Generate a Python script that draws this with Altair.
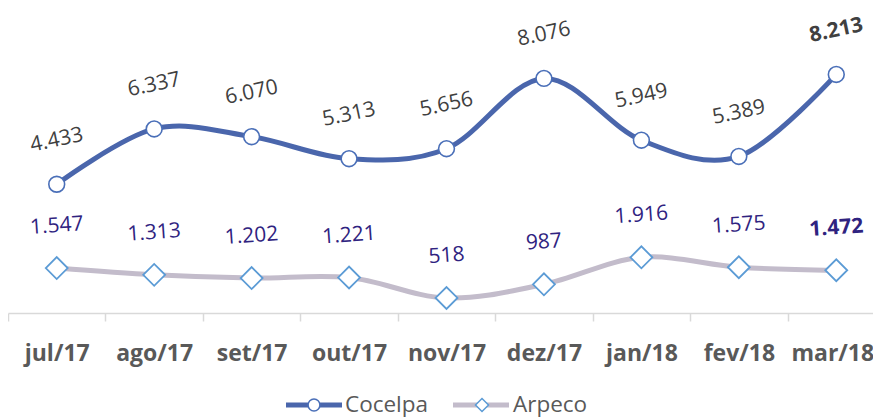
import altair as alt
import pandas as pd

months = ["jul/17", "ago/17", "set/17", "out/17", "nov/17", "dez/17", "jan/18", "fev/18", "mar/18"]
cocelpa = [4433, 6337, 6070, 5313, 5656, 8076, 5949, 5389, 8213]
arpeco = [1547, 1313, 1202, 1221, 518, 987, 1916, 1575, 1472]
series_names = ["Cocelpa", "Arpeco"]

FONT = "Open Sans"


def fmt(v):
    return f"{v:,}".replace(",", ".")


def frame(name, values):
    return pd.DataFrame({
        "month": months,
        "series": name,
        "value": values,
        "label": [fmt(v) for v in values],
        "last": [i == len(values) - 1 for i in range(len(values))],
    })


dc = frame(series_names[0], cocelpa)
da = frame(series_names[1], arpeco)

xenc = alt.X(
    "month:N", sort=months, title=None,
    scale=alt.Scale(type="band", range=[0, 877], paddingInner=0, paddingOuter=0),
    axis=alt.Axis(
        tickBand="extent", domainColor="#d9d9d9", domainWidth=1.5,
        tickColor="#d9d9d9", tickWidth=1.5, tickSize=8,
        labelFont=FONT, labelFontSize=23, labelFontWeight="bold",
        labelColor="#595959", labelPadding=21, labelAngle=0, grid=False,
        labelOffset={"condition": {"test": f"datum.label === '{months[-1]}'", "value": -4}, "value": 0},
    ),
)
yenc = alt.Y("value:Q", scale=alt.Scale(domain=[0, 10500], nice=False, zero=True), axis=None)


def labels(df, color, angle, yoff):
    base = alt.Chart(df)
    normal = base.transform_filter("!datum.last").mark_text(
        font=FONT, fontSize=21, color=color, angle=angle, yOffset=yoff, baseline="middle"
    ).encode(x=xenc, y=yenc, text="label:N")
    bold = base.transform_filter("datum.last").mark_text(
        font=FONT, fontSize=21, fontWeight="bold", color=color, angle=angle, yOffset=yoff, baseline="middle"
    ).encode(x=xenc, y=yenc, text="label:N")
    return [normal, bold]


c_line = alt.Chart(dc).mark_line(interpolate="cardinal", color="#4a66ac", strokeWidth=5).encode(x=xenc, y=yenc)
c_pts = alt.Chart(dc).mark_point(shape="circle", filled=True, fill="white", stroke="#4a6fb8",
                                 strokeWidth=1.6, size=250, opacity=1).encode(x=xenc, y=yenc)

a_line = alt.Chart(da).mark_line(interpolate="cardinal", color="#c3bccb", strokeWidth=5).encode(x=xenc, y=yenc)
a_pts = alt.Chart(da).mark_point(shape="diamond", filled=True, fill="white", stroke="#5b9bd5",
                                 strokeWidth=1.8, size=480, opacity=1).encode(x=xenc, y=yenc)

# legend
leg = pd.DataFrame({"series": series_names})
lc = leg[leg.series == "Cocelpa"]
la = leg[leg.series == "Arpeco"]
LY = 397
leg_layers = [
    alt.Chart(lc).mark_rule(color="#4a66ac", strokeWidth=5).encode(
        x=alt.value(278), x2=alt.value(334), y=alt.value(LY)),
    alt.Chart(lc).mark_point(shape="circle", filled=True, fill="white", stroke="#4a6fb8",
                             strokeWidth=1.5, size=140, opacity=1).encode(x=alt.value(306), y=alt.value(LY)),
    alt.Chart(lc).mark_text(font=FONT, fontSize=22.5, color="#595959", align="left", baseline="middle").encode(
        x=alt.value(337), y=alt.value(LY), text="series:N"),
    alt.Chart(la).mark_rule(color="#c3bccb", strokeWidth=5).encode(
        x=alt.value(445), x2=alt.value(501), y=alt.value(LY)),
    alt.Chart(la).mark_point(shape="diamond", filled=True, fill="white", stroke="#5b9bd5",
                             strokeWidth=1.5, size=170, opacity=1).encode(x=alt.value(474), y=alt.value(LY)),
    alt.Chart(la).mark_text(font=FONT, fontSize=22.5, color="#595959", align="left", baseline="middle").encode(
        x=alt.value(505), y=alt.value(LY), text="series:N"),
]

chart = alt.layer(
    a_line, a_pts, *labels(da, "#2f2380", 356, -42),
    c_line, c_pts, *labels(dc, "#404040", 348, -44),
    *leg_layers,
).properties(
    width=865, height=305,
    autosize=alt.AutoSizeParams(type="none"),
    padding={"left": 0, "top": 0, "right": 0, "bottom": 105},
    background="white",
).configure_view(stroke=None)

chart.save("out.html", embed_options={"renderer": "svg", "actions": False})
